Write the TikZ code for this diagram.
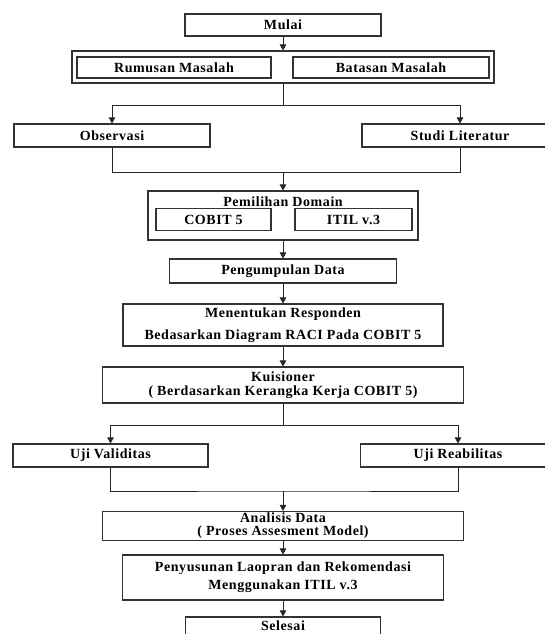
\documentclass[tikz,border=0pt]{standalone}
\usepackage{fontspec}
\setmainfont{Liberation Serif}[LetterSpace=4]
\usepackage{tikz}
\usetikzlibrary{arrows.meta,positioning,calc}

\begin{document}
\begin{tikzpicture}[x=1pt,y=-1pt,
  box/.style={draw=black!80,line width=1.1pt,inner sep=0pt,align=center,
              font=\fontsize{14}{16}\selectfont\bfseries},
  judul/.style={inner sep=0pt,font=\fontsize{14}{16}\selectfont\bfseries},
  ln/.style={black!85,line width=0.9pt},
  arr/.style={ln,-{Triangle[length=6pt,width=6.5pt]}}
]
  \useasboundingbox (0,0) rectangle (545,634);

  \node[box,minimum width=196pt,minimum height=22pt] (mulai) at (283,25) {Mulai};
  \node[box,minimum width=422pt,minimum height=32pt] (grup) at (283,67) {};
  \node[box,minimum width=194pt,minimum height=21pt] (rumusan) at (174,67.5) {Rumusan Masalah};
  \node[box,minimum width=196pt,minimum height=21pt] (batasan) at (391,67.5) {Batasan Masalah};

  \node[box,minimum width=196pt,minimum height=23pt] (observasi) at (112,135.5) {Observasi};
  \node[box,minimum width=196pt,minimum height=23pt] (studi) at (460,135.5) {Studi Literatur};

  \node[box,minimum width=270pt,minimum height=49pt] (pemilihan) at (283,215.5) {};
  \node[judul] (pemilihanjudul) at (283,202) {Pemilihan Domain};
  \node[box,minimum width=115pt,minimum height=22pt] (cobit) at (213.5,219.5) {COBIT 5};
  \node[box,minimum width=117pt,minimum height=22pt] (itil) at (353.5,219.5) {ITIL v.3};

  \node[box,minimum width=227pt,minimum height=24pt] (pengumpulan) at (283,271) {Pengumpulan Data};
  \node[box,minimum width=320pt,minimum height=42pt] (menentukan) at (283,325)
    {Menentukan Responden\\[6pt]Bedasarkan Diagram RACI Pada COBIT 5};
  \node[box,minimum width=361pt,minimum height=36pt] (kuisioner) at (283,385)
    {Kuisioner\\[-2pt]( Berdasarkan Kerangka Kerja COBIT 5)};

  \node[box,minimum width=195pt,minimum height=23pt] (validitas) at (110.5,455.5) {Uji Validitas};
  \node[box,minimum width=195pt,minimum height=23pt] (reabilitas) at (458,455.5) {Uji Reabilitas};

  \node[box,minimum width=361pt,minimum height=29pt] (analisis) at (283,526)
    {Analisis Data\\[-3pt]( Proses Assesment Model)};
  \node[box,minimum width=321pt,minimum height=45pt] (penyusunan) at (283,577.5)
    {Penyusunan Laopran dan Rekomendasi\\[2pt]Menggunakan ITIL v.3};
  \node[box,minimum width=195pt,minimum height=18pt] (selesai) at (283,626) {Selesai};

  \coordinate (cabang1) at (283,105.5);
  \coordinate (gabung1) at (283,172.5);
  \coordinate (cabang2) at (283,425);
  \coordinate (gabung2) at (283,491);

  \draw[arr] (mulai) -- (grup);
  \draw[ln] (grup) -- (cabang1);
  \draw[arr] (cabang1) -| (observasi);
  \draw[arr] (cabang1) -| (studi);
  \draw[ln] (observasi) |- (gabung1) -| (studi);
  \draw[arr] (gabung1) -- (pemilihan);
  \draw[arr] (pemilihan) -- (pengumpulan);
  \draw[arr] (pengumpulan) -- (menentukan);
  \draw[arr] (menentukan) -- (kuisioner);
  \draw[ln] (kuisioner) -- (cabang2);
  \draw[arr] (cabang2) -| (validitas);
  \draw[arr] (cabang2) -| (reabilitas);
  \draw[ln] (validitas) |- (gabung2) -| (reabilitas);
  \draw[arr] (gabung2) -- (analisis);
  \draw[arr] (analisis) -- (penyusunan);
  \draw[arr] (penyusunan) -- (selesai);
\end{tikzpicture}
\end{document}
